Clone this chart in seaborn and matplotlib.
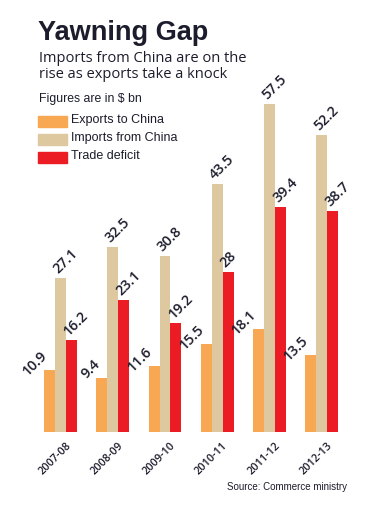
import pandas as pd
import numpy as np
import matplotlib
matplotlib.use("Agg")
import matplotlib.pyplot as plt
import matplotlib.transforms as mtransforms
import seaborn as sns

# data, $ bn
years = ["2007-08", "2008-09", "2009-10", "2010-11", "2011-12", "2012-13"]
exports = [10.9, 9.4, 11.6, 15.5, 18.1, 13.5]
imports = [27.1, 32.5, 30.8, 43.5, 57.5, 52.2]
deficit = [16.2, 23.1, 19.2, 28, 39.4, 38.7]
series = ["Exports to China", "Imports from China", "Trade deficit"]
colors = ["#F8A853", "#DDC8A0", "#EC1C24"]

df = pd.DataFrame({"year": years * 3,
                   "series": np.repeat(series, len(years)),
                   "value": exports + imports + deficit})

sns.set_style("white")
plt.rcParams["font.family"] = ["Liberation Sans", "DejaVu Sans"]
ink = "#1c1c2c"
num_font = ["Open Sans", "DejaVu Sans"]

fig = plt.figure(figsize=(3.81, 5.05), dpi=100)
ax = fig.add_axes([0.0906, 0.1446, 0.822, 0.677])

sns.barplot(data=df, x="year", y="value", hue="series", palette=colors,
            width=0.63, gap=0, legend=False, ax=ax, saturation=1,
            linewidth=0, edgecolor="none")
ax.set_ylim(0, 60)
ax.set_xlim(-0.5, 5.5)
sns.despine(ax=ax, left=True, bottom=True)
ax.set_yticks([])
ax.set_xlabel("")
ax.set_ylabel("")

# value labels: exports end at the bar, the others start at it
px = 1 / 100
off_l = mtransforms.ScaledTranslation(3 * px, 4 * px, fig.dpi_scale_trans)
off_r = mtransforms.ScaledTranslation(4 * px, 14 * px, fig.dpi_scale_trans)
n = len(years)
for i, bar in enumerate(ax.patches):
    h = bar.get_height()
    if np.isnan(h) or h == 0:
        continue
    first = i < n
    ax.text(bar.get_x(), h, f"{h:g}", rotation=45, rotation_mode="anchor",
            ha="right" if first else "left", va="baseline", fontsize=10.3,
            family=num_font, fontweight="semibold",
            color=ink, transform=ax.transData + (off_r if first else off_l),
            clip_on=False)

# rotated year labels
ax.tick_params(axis="x", length=0, pad=0)
ax.set_xticks(range(n))
ax.set_xticklabels(years, rotation=45, ha="right", rotation_mode="anchor",
                   fontsize=7.8, color=ink, family=num_font,
                   fontweight="semibold")
shift = mtransforms.ScaledTranslation(5 * px, -8 * px, fig.dpi_scale_trans)
for lab in ax.get_xticklabels():
    lab.set_transform(lab.get_transform() + shift)

# titles
fig.text(38 / 381, 1 - 40 / 505, "Yawning Gap", fontsize=19.5,
         fontweight="bold", color=ink, va="baseline")
fig.text(39 / 381, 1 - 62 / 505, "Imports from China are on the",
         fontsize=10.5, color=ink, va="baseline", family=num_font,
         fontweight="medium")
fig.text(39 / 381, 1 - 78 / 505, "rise as exports take a knock",
         fontsize=10.5, color=ink, va="baseline", family=num_font,
         fontweight="medium")
fig.text(39 / 381, 1 - 102 / 505, "Figures are in $ bn", fontsize=8.8,
         color=ink, va="baseline")

# legend
for i, (name, c) in enumerate(zip(series, colors)):
    y0 = 1 - (127 + 18 * i) / 505
    fig.patches.append(plt.Rectangle((38 / 381, y0), 29 / 381, 11 / 505,
                                     color=c, transform=fig.transFigure))
    fig.text(71 / 381, y0 + 1.5 / 505, name, fontsize=9, color=ink,
             va="bottom")

fig.text(347 / 381, 1 - 490 / 505, "Source: Commerce ministry", fontsize=7,
         color=ink, ha="right", va="baseline")

fig.savefig("out.png", dpi=100)
